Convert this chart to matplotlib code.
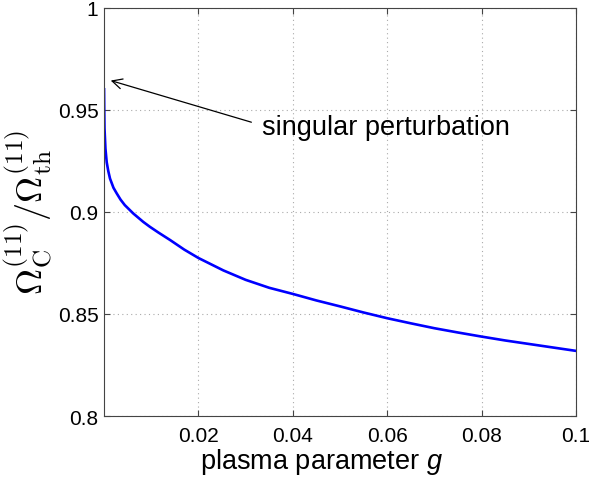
import matplotlib
matplotlib.use("Agg")
import matplotlib.pyplot as plt

g = [0.00001, 0.00005, 0.0001, 0.0003, 0.00057, 0.0009, 0.00127, 0.002, 0.0027, 0.0035,
     0.0044, 0.0062, 0.0083, 0.0097, 0.0115, 0.014, 0.017, 0.02, 0.0253, 0.03, 0.035,
     0.04, 0.045, 0.05, 0.055, 0.06, 0.065, 0.07, 0.075, 0.08, 0.085, 0.09, 0.095, 0.1]
ratio = [0.960, 0.950, 0.941, 0.931, 0.9243, 0.920, 0.9163, 0.9118, 0.909, 0.906,
         0.9033, 0.8992, 0.8951, 0.8927, 0.8899, 0.8862, 0.8815, 0.8774, 0.8713, 0.8667, 0.8628,
         0.8598, 0.8566, 0.8537, 0.8507, 0.8479, 0.8454, 0.843, 0.8409, 0.8389, 0.837, 0.8353,
         0.8336, 0.8319]

xticks = [0.02, 0.04, 0.06, 0.08, 0.1]
xticklabels = ["0.02", "0.04", "0.06", "0.08", "0.1"]
yticks = [0.8, 0.85, 0.9, 0.95, 1.0]
yticklabels = ["0.8", "0.85", "0.9", "0.95", "1"]

plt.rcParams['font.family'] = ['Liberation Sans', 'DejaVu Sans']
plt.rcParams['mathtext.fontset'] = 'custom'
plt.rcParams['mathtext.it'] = 'Liberation Sans:italic'
plt.rcParams['mathtext.rm'] = 'Liberation Sans'

fig = plt.figure(figsize=(5.89, 4.81), dpi=100)
ax = fig.add_axes([0.1766, 0.133, 0.8014, 0.849])

ax.plot(g, ratio, color=(0, 0, 1), lw=1.9)
ax.set_xlim(0, 0.1)
ax.set_ylim(0.8, 1.0)
ax.set_xticks(xticks)
ax.set_xticklabels(xticklabels)
ax.set_yticks(yticks)
ax.set_yticklabels(yticklabels)
ax.tick_params(direction='in', top=True, right=True, labelsize=15, length=4,
               color='#444444')
ax.tick_params(axis='x', pad=7)
ax.tick_params(axis='y', pad=4)
for s in ax.spines.values():
    s.set_color('#444444')
    s.set_linewidth(0.8)
ax.grid(True, linestyle=(0, (1, 3)), color='#aaaaaa', lw=0.8)

ax.set_xlabel(r"plasma parameter $g$", fontsize=19.5)
ax.xaxis.set_label_coords(0.46, -0.073)
ax.set_ylabel(r"$\Omega_{\rm C}^{(11)}/\Omega_{\rm th}^{(11)}$", fontsize=26, labelpad=2,
              math_fontfamily='cm')

ax.annotate("singular perturbation", xy=(0.00142, 0.9643), xytext=(0.0335, 0.9417),
            fontsize=19.5, va='center', ha='left',
            arrowprops=dict(arrowstyle='->', color='black', lw=0.9, relpos=(0, 0.55),
                            shrinkA=6, shrinkB=0, mutation_scale=18))

fig.savefig("out.png", dpi=100)
